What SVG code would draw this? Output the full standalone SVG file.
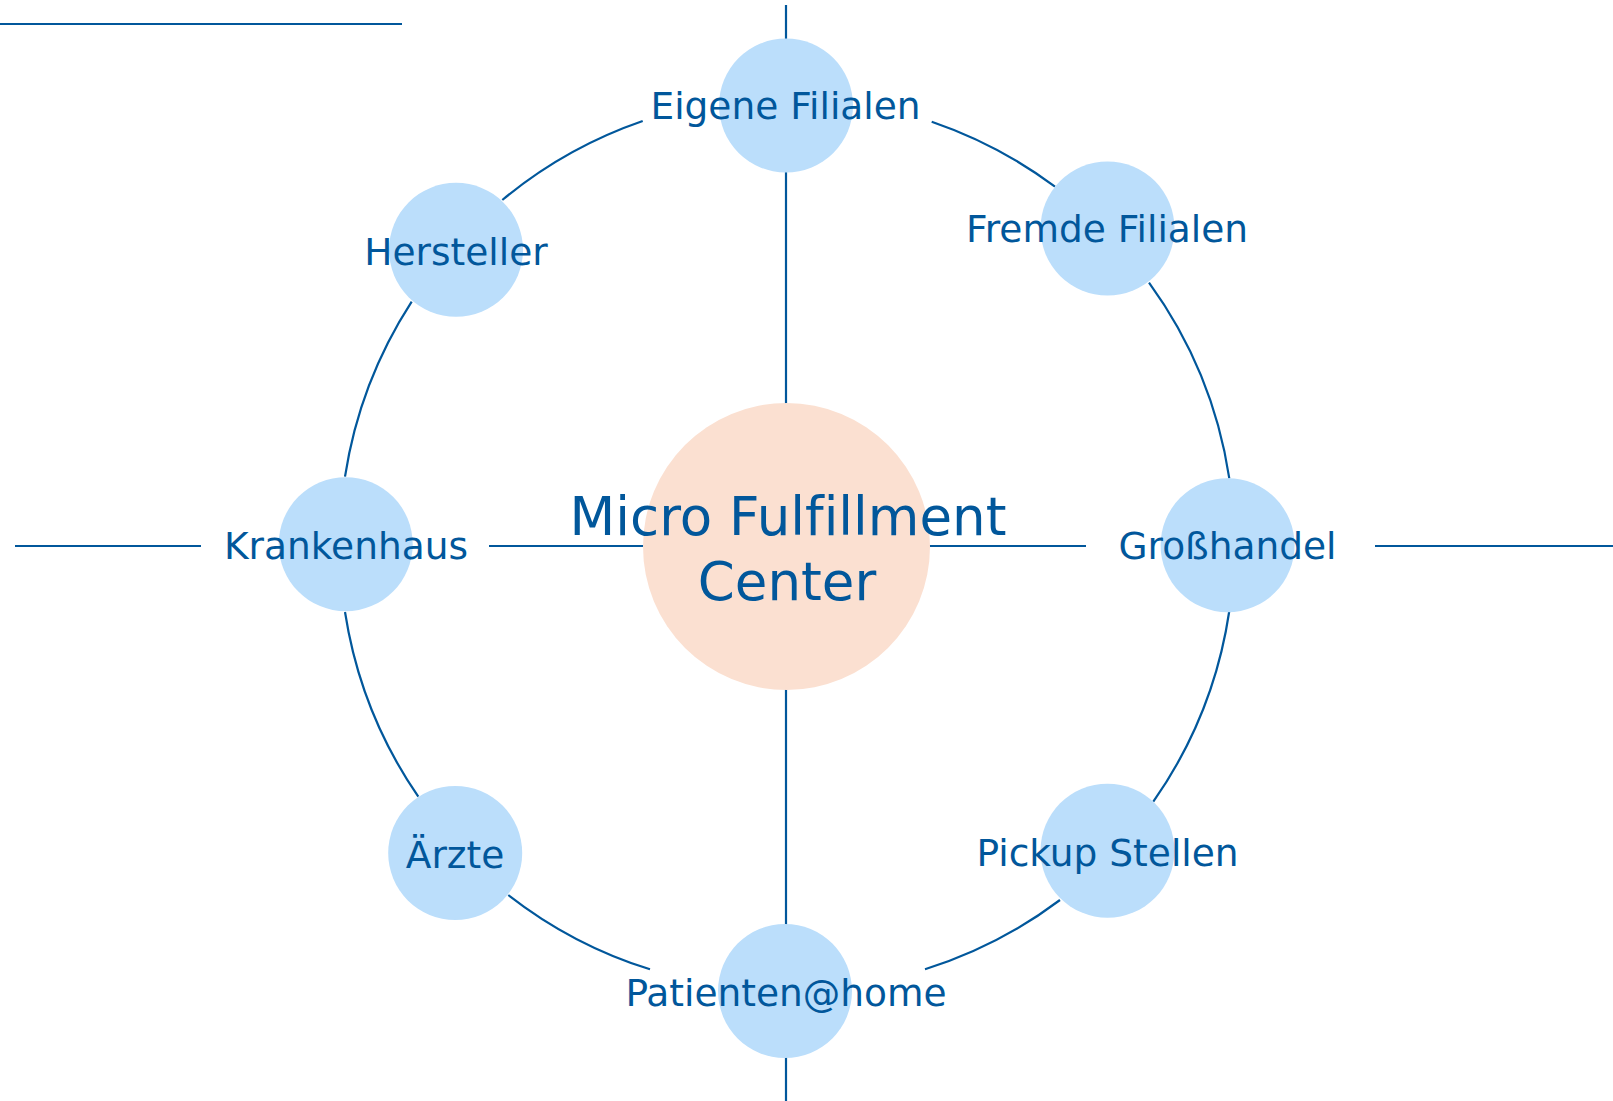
<svg xmlns="http://www.w3.org/2000/svg" width="1613" height="1101" viewBox="0 0 1613 1101">
<style>
.edge{fill:none;stroke:#01579B;stroke-width:2.2}
.n{fill:#BBDEFB}
.c{fill:#FBE0D1}
.t{font-family:"DejaVu Sans",Verdana,sans-serif;font-size:37.5px;fill:#01579B;text-anchor:middle;font-variant-ligatures:none;font-feature-settings:"liga" 0,"clig" 0}
.tc{font-family:"DejaVu Sans",Verdana,sans-serif;font-size:53px;fill:#01579B;text-anchor:middle;font-variant-ligatures:none;font-feature-settings:"liga" 0,"clig" 0}
</style>
<rect width="1613" height="1101" fill="#ffffff"/>
<g id="connectors">
<line class="edge" x1="0" y1="24" x2="402" y2="24"/>
<line class="edge" x1="786" y1="5" x2="786" y2="40"/>
<line class="edge" x1="786" y1="171" x2="786" y2="404"/>
<line class="edge" x1="786" y1="689" x2="786" y2="925"/>
<line class="edge" x1="786" y1="1057" x2="786" y2="1101"/>
<line class="edge" x1="15" y1="546" x2="201" y2="546"/>
<line class="edge" x1="489" y1="546" x2="644" y2="546"/>
<line class="edge" x1="929" y1="546" x2="1086" y2="546"/>
<line class="edge" x1="1375" y1="546" x2="1613" y2="546"/>
<path class="edge" d="M502.3 200 A447 447 0 0 1 642.7 121"/>
<path class="edge" d="M931.7 121.7 A447 447 0 0 1 1055 186.7"/>
<path class="edge" d="M1149 282.7 A447 447 0 0 1 1229.3 478.3"/>
<path class="edge" d="M1229.3 611 A447 447 0 0 1 1153.3 801.7"/>
<path class="edge" d="M1060 900 A447 447 0 0 1 925 969.3"/>
<path class="edge" d="M650 969.3 A447 447 0 0 1 508.3 895"/>
<path class="edge" d="M418.3 796.7 A447 447 0 0 1 345 612"/>
<path class="edge" d="M345 476.7 A447 447 0 0 1 411.7 301.7"/>
</g>
<g id="node-center">
<circle class="c" cx="786.5" cy="546.5" r="143.5"/>
<text class="tc" x="788" y="535">Micro Fulfillment</text>
<text class="tc" x="787" y="600">Center</text>
</g>
<g id="node-eigene">
<circle class="n" cx="786" cy="105.5" r="67"/>
<text class="t" x="785.5" y="119">Eigene Filialen</text>
</g>
<g id="node-hersteller">
<circle class="n" cx="456" cy="249.8" r="67"/>
<text class="t" x="456" y="265">Hersteller</text>
</g>
<g id="node-fremde">
<circle class="n" cx="1107.5" cy="228.5" r="67"/>
<text class="t" x="1107" y="241.7">Fremde Filialen</text>
</g>
<g id="node-krankenhaus">
<circle class="n" cx="345.7" cy="544.2" r="67"/>
<text class="t" x="346" y="559">Krankenhaus</text>
</g>
<g id="node-grosshandel">
<circle class="n" cx="1227.6" cy="545.2" r="67"/>
<text class="t" x="1227.5" y="559.3">Großhandel</text>
</g>
<g id="node-aerzte">
<circle class="n" cx="455.2" cy="853" r="67"/>
<text class="t" x="455" y="868.3">Ärzte</text>
</g>
<g id="node-pickup">
<circle class="n" cx="1107.5" cy="850.7" r="67"/>
<text class="t" x="1107.5" y="866">Pickup Stellen</text>
</g>
<g id="node-patienten">
<circle class="n" cx="785" cy="991" r="67"/>
<text class="t" x="786" y="1006">Patienten@home</text>
</g>
</svg>
